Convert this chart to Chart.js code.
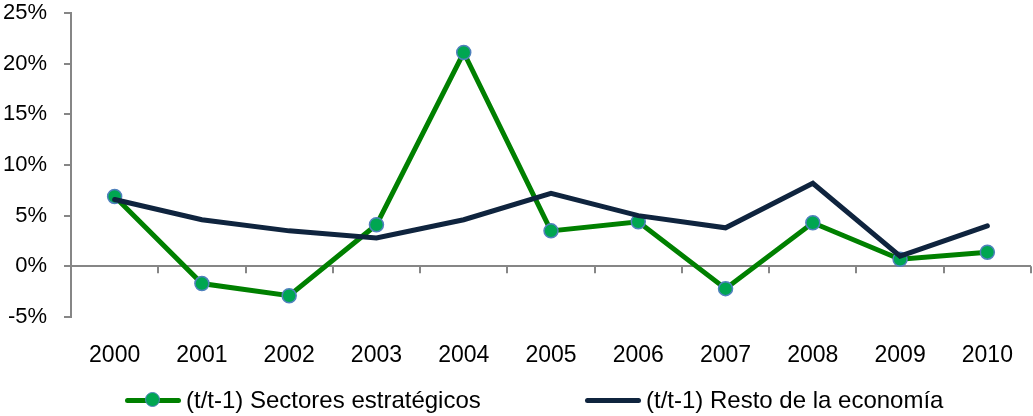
<!DOCTYPE html>
<html>
<head>
<meta charset="utf-8">
<script src="https://cdn.jsdelivr.net/npm/chart.js@4.4.0/dist/chart.umd.min.js"></script>
<style>
    html, body { margin: 0; padding: 0; background: #fff; }
    #wrap { position: relative; width: 1033px; height: 416px; }
    #legend { position: absolute; left: 125px; top: 385px; display: flex;
              font: 24px "Liberation Sans", Arial, sans-serif; color: #000; white-space: nowrap; }
    .item { display: flex; align-items: center; height: 30px; }
    .item:first-child { width: 460px; }
    .sym { position: relative; width: 56px; height: 16px; margin-right: 5px; }
    .sym .ln { position: absolute; left: 0; right: 0; top: 5.5px; height: 5px; border-radius: 2.5px; }
    .sym .dot { position: absolute; left: 20px; top: 0; width: 13px; height: 13px; border-radius: 50%; }
</style>
</head>
<body>
<div id="wrap">
    <canvas id="chart" width="1033" height="416"></canvas>
    <div id="legend"></div>
</div>
<script>
// Data (percent, year over year)
const years = ['2000', '2001', '2002', '2003', '2004', '2005', '2006', '2007', '2008', '2009', '2010'];
const sectoresEstrategicos = [6.9, -1.7, -2.9, 4.1, 21.1, 3.5, 4.4, -2.2, 4.3, 0.7, 1.4];
const restoEconomia = [6.6, 4.6, 3.5, 2.8, 4.6, 7.2, 5.0, 3.8, 8.2, 1.0, 4.0];
const yTicks = [-5, 0, 5, 10, 15, 20, 25];
const seriesNames = ['(t/t-1) Sectores estratégicos', '(t/t-1) Resto de la economía'];

const GREEN = '#008000';
const MARKER = '#00A651';
const MARKER_EDGE = '#4F81BD';
const NAVY = '#0F243E';
const AXIS = '#868686';

Chart.defaults.font.family = '"Liberation Sans", Arial, sans-serif';

// small tick marks hanging under the 0% line, between categories
const categoryTicks = {
    id: 'categoryTicks',
    beforeDatasetsDraw(chart) {
        const { ctx, scales: { x, y } } = chart;
        const y0 = y.getPixelForValue(0);
        const step = x.getPixelForValue(1) - x.getPixelForValue(0);
        ctx.save();
        ctx.strokeStyle = AXIS;
        ctx.lineWidth = 2;
        ctx.beginPath();
        years.forEach((_, i) => {
            const px = Math.round(x.getPixelForValue(i) + step / 2);
            ctx.moveTo(px, y0);
            ctx.lineTo(px, y0 + 7);
        });
        ctx.stroke();
        ctx.restore();
    }
};

const ctx = document.getElementById('chart').getContext('2d');
const chart = new Chart(ctx, {
    type: 'line',
    data: {
        labels: years,
        datasets: [{
            label: seriesNames[0],
            data: sectoresEstrategicos,
            borderColor: GREEN,
            borderWidth: 5,
            pointRadius: 7,
            pointBackgroundColor: MARKER,
            pointBorderColor: MARKER_EDGE,
            pointBorderWidth: 1.5,
            tension: 0,
            order: 2
        }, {
            label: seriesNames[1],
            data: restoEconomia,
            borderColor: NAVY,
            borderWidth: 5,
            borderCapStyle: 'round',
            pointRadius: 0,
            tension: 0,
            order: 1
        }]
    },
    options: {
        responsive: false,
        animation: false,
        devicePixelRatio: 1,
        layout: { autoPadding: false, padding: { left: 0, right: 2, top: 13, bottom: 49 } },
        plugins: {
            legend: { display: false },
            tooltip: { enabled: false }
        },
        scales: {
            x: {
                offset: true,
                afterFit(scale) {
                    scale.height = 50;
                    scale.paddingLeft = 0;
                    scale.paddingRight = 0;
                },
                grid: { display: false, drawTicks: false },
                border: { display: false },
                ticks: { padding: 25, color: '#000', font: { size: 23 }, maxRotation: 0, autoSkip: false }
            },
            y: {
                min: -5,
                max: 25,
                afterFit(scale) {
                    scale.width = 71;
                    scale.paddingTop = 0;
                    scale.paddingBottom = 0;
                },
                afterBuildTicks(scale) { scale.ticks = yTicks.map(v => ({ value: v })); },
                border: { color: AXIS, width: 2 },
                grid: {
                    color: c => (c.tick && c.tick.value === 0) ? AXIS : 'rgba(0,0,0,0)',
                    lineWidth: 2,
                    tickColor: AXIS,
                    tickLength: 7,
                    tickWidth: 2
                },
                ticks: { padding: 17, color: '#000', font: { size: 22 }, callback: v => v + '%' }
            }
        }
    },
    plugins: [categoryTicks]
});

// HTML legend built from the datasets
const legend = document.getElementById('legend');
chart.data.datasets.forEach(ds => {
    const item = document.createElement('div');
    item.className = 'item';
    const sym = document.createElement('span');
    sym.className = 'sym';
    const ln = document.createElement('span');
    ln.className = 'ln';
    ln.style.background = ds.borderColor;
    sym.appendChild(ln);
    if (ds.pointRadius > 0) {
        const dot = document.createElement('span');
        dot.className = 'dot';
        dot.style.background = ds.pointBackgroundColor;
        dot.style.border = ds.pointBorderWidth + 'px solid ' + ds.pointBorderColor;
        sym.appendChild(dot);
    }
    const txt = document.createElement('span');
    txt.textContent = ds.label;
    item.appendChild(sym);
    item.appendChild(txt);
    legend.appendChild(item);
});
</script>
</body>
</html>
